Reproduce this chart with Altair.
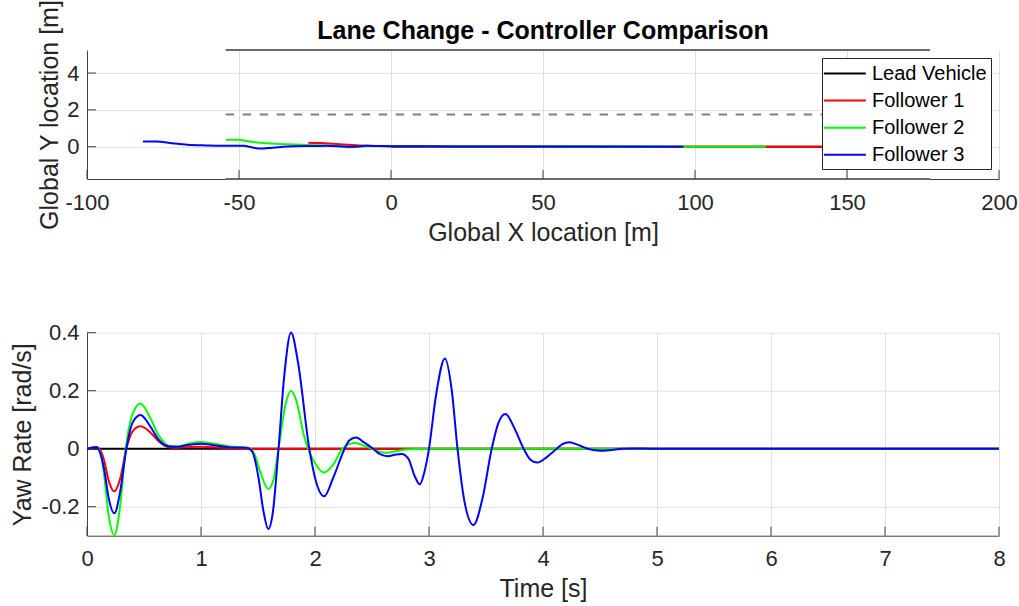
import altair as alt
import pandas as pd

FONT = "Liberation Sans"
TXT = "#262626"
AX = "#404040"
GRID = "#e0e0e0"

series_names = ["Lead Vehicle", "Follower 1", "Follower 2", "Follower 3"]
series_colors = ["#000000", "#ff0000", "#00ff00", "#0000ff"]

# ---------------- top panel: global trajectories ----------------
lead_x = [0.0, 177.5]
lead_y = [0.0, 0.0]
f1_x = [-27.2, -23.4, -16.8, -10.3, -5.0, 0.0, 20.0, 150.3]
f1_y = [0.22, 0.20, 0.13, 0.07, 0.04, 0.03, 0.01, 0.0]
f2_x = [-54.3, -50.6, -47.0, -43.0, -38.0, -34.0, -27.4, -18.6, -16.0, -13.5, -10.0, -7.0, 0.0, 20.0, 123.3]
f2_y = [0.38, 0.38, 0.30, 0.22, 0.16, 0.13, 0.09, 0.05, 0.0, -0.03, 0.01, 0.04, 0.03, 0.01, 0.0]
f3_x = [-81.6, -77.0, -72.0, -67.0, -61.0, -56.0, -48.6, -45.5, -43.0, -39.0, -32.0, -26.0, -21.0, -17.0, -13.5, -10.0, -8.0, -4.0, 5.0, 20.0, 96.2]
f3_y = [0.29, 0.28, 0.19, 0.11, 0.07, 0.05, 0.05, -0.04, -0.10, -0.05, 0.03, 0.04, 0.05, 0.03, 0.0, 0.03, 0.05, 0.04, 0.03, 0.01, 0.0]

road_x_start = -54.4
road_x_end = 177.3
road_edges_y = [5.25, -1.75]
road_center_y = [1.75]

top_x_ticks = [-100, -50, 0, 50, 100, 150, 200]
top_y_ticks = [0, 2, 4]

# ---------------- bottom panel: yaw rate ----------------
lead_t = [0.0, 8.0]
lead_r = [0.0, 0.0]
f1_t = [0, 0.04, 0.08, 0.11, 0.15, 0.19, 0.24, 0.29, 0.345, 0.40, 0.47, 0.55, 0.63, 0.72, 0.80, 0.90, 1.00, 1.15, 1.30, 1.45, 8.0]
f1_r = [0, 0.003, 0.006, 0.0, -0.04, -0.11, -0.147, -0.105, 0.0, 0.06, 0.077, 0.058, 0.025, 0.005, 0.003, 0.006, 0.007, 0.004, 0.001, 0.0, 0.0]
f2_t = [0, 0.04, 0.08, 0.11, 0.15, 0.19, 0.24, 0.29, 0.34, 0.40, 0.47, 0.55, 0.63, 0.72, 0.80, 0.90, 1.00, 1.10, 1.25, 1.42,
        1.47, 1.52, 1.59, 1.64, 1.68, 1.74, 1.79, 1.84, 1.90, 1.94, 2.00, 2.08, 2.16, 2.24, 2.30, 2.36, 2.43, 2.50, 2.56, 2.63,
        2.72, 2.80, 3.00, 8.0]
f2_r = [0, 0.003, 0.006, -0.005, -0.09, -0.23, -0.298, -0.20, 0.0, 0.12, 0.156, 0.11, 0.045, 0.01, 0.008, 0.018, 0.023, 0.018, 0.008, 0.002,
        -0.02, -0.08, -0.139, -0.10, 0.0, 0.15, 0.20, 0.16, 0.05, 0.0, -0.05, -0.082, -0.055, 0.0, 0.016, 0.02, 0.01, 0.0, -0.01, -0.014,
        -0.008, -0.003, 0.0, 0.0]
f3_t = [0, 0.04, 0.08, 0.11, 0.15, 0.19, 0.24, 0.29, 0.345, 0.40, 0.47, 0.55, 0.63, 0.72, 0.80, 0.90, 1.00, 1.10, 1.25, 1.40,
        1.45, 1.50, 1.55, 1.59, 1.63, 1.68, 1.73, 1.79, 1.85, 1.95, 2.00, 2.08, 2.16, 2.26, 2.30, 2.36, 2.43, 2.51, 2.57, 2.64,
        2.71, 2.76, 2.82, 2.87, 2.92, 2.96, 3.00, 3.06, 3.14, 3.20, 3.25, 3.31, 3.39, 3.47, 3.55, 3.61, 3.67, 3.75, 3.83, 3.89,
        3.95, 4.03, 4.12, 4.17, 4.23, 4.31, 4.39, 4.46, 4.53, 4.62, 4.70, 4.80, 4.95, 8.0]
f3_r = [0, 0.003, 0.006, -0.008, -0.07, -0.17, -0.223, -0.15, 0.0, 0.09, 0.116, 0.08, 0.03, 0.008, 0.007, 0.014, 0.017, 0.013, 0.005, 0.003,
        -0.01, -0.09, -0.22, -0.277, -0.22, 0.0, 0.25, 0.401, 0.30, 0.0, -0.10, -0.164, -0.10, 0.0, 0.028, 0.039, 0.022, 0.0, -0.019, -0.026,
        -0.02, -0.018, -0.035, -0.09, -0.123, -0.08, 0.0, 0.18, 0.311, 0.20, 0.0, -0.18, -0.263, -0.17, 0.0, 0.09, 0.12, 0.07, 0.0, -0.038,
        -0.048, -0.03, 0.0, 0.016, 0.022, 0.013, 0.0, -0.005, -0.007, -0.004, 0.0, 0.001, 0.0, 0.0]

bot_x_ticks = [0, 1, 2, 3, 4, 5, 6, 7, 8]
bot_y_ticks = [-0.2, 0, 0.2, 0.4]

# ---------------- chart ----------------
W = 912
H1 = 129
H2 = 203
TICK = 9

csc = alt.Scale(domain=series_names, range=series_colors)
minus_fix = "replace(datum.label, '\u2212', '-')"

xsc1 = alt.Scale(domain=[-100, 200], nice=False, zero=False)
ysc1 = alt.Scale(domain=[-1.75, 5.25], nice=False, zero=False)
x_axis1 = alt.Axis(values=top_x_ticks, title="Global X location [m]", labelExpr=minus_fix,
                   labelPadding=13, titleY=61, titleBaseline="alphabetic")
y_axis1 = alt.Axis(values=top_y_ticks, title="Global Y location [m]", labelPadding=8,
                   titleX=-30, titleBaseline="alphabetic")

legend1 = alt.Legend(title=None, orient="top-right", offset=8, symbolType="M-1.3,0H2.7", symbolSize=441,
                     symbolStrokeWidth=2, labelFontSize=20, labelFont=FONT, labelColor="#000000",
                     labelOffset=23, padding=4, rowPadding=5.1, strokeColor="#262626",
                     fillColor="#ffffff", cornerRadius=0, labelLimit=400)

def traj(name, xs, ys):
    df = pd.DataFrame({"gx": xs, "gy": ys, "series": name})
    return alt.Chart(df).mark_line(strokeWidth=2, interpolate="monotone").encode(
        x=alt.X("gx:Q", scale=xsc1, axis=x_axis1),
        y=alt.Y("gy:Q", scale=ysc1, axis=y_axis1),
        color=alt.Color("series:N", scale=csc, legend=legend1),
    )

road_solid = alt.Chart(pd.DataFrame({"xs": [road_x_start] * len(road_edges_y),
                                     "xe": [road_x_end] * len(road_edges_y),
                                     "ry": road_edges_y})).mark_rule(color="#6b6b6b", strokeWidth=2).encode(
    x=alt.X("xs:Q", scale=xsc1, axis=x_axis1), x2="xe:Q",
    y=alt.Y("ry:Q", scale=ysc1, axis=y_axis1))
road_dash = alt.Chart(pd.DataFrame({"xs": [road_x_start], "xe": [road_x_end],
                                    "ry": road_center_y})).mark_rule(color="#808080", strokeWidth=2,
                                                                     strokeDash=[8.5, 8.5]).encode(
    x=alt.X("xs:Q", scale=xsc1, axis=x_axis1), x2="xe:Q",
    y=alt.Y("ry:Q", scale=ysc1, axis=y_axis1))

xt1 = alt.Chart(pd.DataFrame({"tx": top_x_ticks})).mark_rule(color=AX, strokeWidth=1).encode(
    x=alt.X("tx:Q", scale=xsc1, axis=x_axis1), y=alt.value(H1), y2=alt.value(H1 - TICK))
yt1 = alt.Chart(pd.DataFrame({"ty": top_y_ticks})).mark_rule(color=AX, strokeWidth=1).encode(
    y=alt.Y("ty:Q", scale=ysc1, axis=y_axis1), x=alt.value(0), x2=alt.value(TICK))

top = alt.layer(
    road_solid, road_dash, xt1, yt1,
    traj("Lead Vehicle", lead_x, lead_y),
    traj("Follower 1", f1_x, f1_y),
    traj("Follower 2", f2_x, f2_y),
    traj("Follower 3", f3_x, f3_y),
).properties(
    width=W, height=H1,
    title=alt.TitleParams("Lane Change - Controller Comparison", fontSize=25, fontWeight="bold",
                          font=FONT, color="#000000", anchor="middle", frame="group",
                          offset=6, baseline="bottom", dy=75.5),
)

xsc2 = alt.Scale(domain=[0, 8], nice=False, zero=False)
ysc2 = alt.Scale(domain=[-0.3, 0.4], nice=False, zero=False)
x_axis2 = alt.Axis(values=bot_x_ticks, title="Time [s]", labelPadding=13, titleY=61,
                   titleBaseline="alphabetic")
y_axis2 = alt.Axis(values=bot_y_ticks, title="Yaw Rate [rad/s]", labelPadding=8,
                   labelExpr="datum.value == 0 ? '0' : " + minus_fix,
                   titleX=-56.5, titleBaseline="alphabetic")

def yaw(name, ts, rs):
    df = pd.DataFrame({"t": ts, "r": rs, "series": name})
    return alt.Chart(df).mark_line(strokeWidth=2, interpolate="monotone").encode(
        x=alt.X("t:Q", scale=xsc2, axis=x_axis2),
        y=alt.Y("r:Q", scale=ysc2, axis=y_axis2),
        color=alt.Color("series:N", scale=csc, legend=None),
    )

xt2 = alt.Chart(pd.DataFrame({"tx": bot_x_ticks})).mark_rule(color=AX, strokeWidth=1).encode(
    x=alt.X("tx:Q", scale=xsc2, axis=x_axis2), y=alt.value(H2), y2=alt.value(H2 - TICK))
yt2 = alt.Chart(pd.DataFrame({"ty": bot_y_ticks})).mark_rule(color=AX, strokeWidth=1).encode(
    y=alt.Y("ty:Q", scale=ysc2, axis=y_axis2), x=alt.value(0), x2=alt.value(TICK))

bottom = alt.layer(
    xt2, yt2,
    yaw("Lead Vehicle", lead_t, lead_r),
    yaw("Follower 1", f1_t, f1_r),
    yaw("Follower 2", f2_t, f2_r),
    yaw("Follower 3", f3_t, f3_r),
).properties(width=W, height=H2)

chart = alt.vconcat(top, bottom, spacing=76.7).resolve_scale(color="independent").properties(
    padding={"left": 10, "top": -1, "right": 0, "bottom": 0}
).configure_axis(
    labelFont=FONT, labelFontSize=22, labelColor=TXT, labelFlush=False,
    titleFont=FONT, titleFontSize=25, titleFontWeight="normal", titleColor=TXT,
    domainColor=AX, domainWidth=1, gridColor=GRID, gridWidth=1, grid=True,
    ticks=False, tickSize=0,
).configure_view(stroke=None).configure_legend(symbolStrokeColor=None)

chart.save("out.html", embed_options={"renderer": "svg", "actions": False})
